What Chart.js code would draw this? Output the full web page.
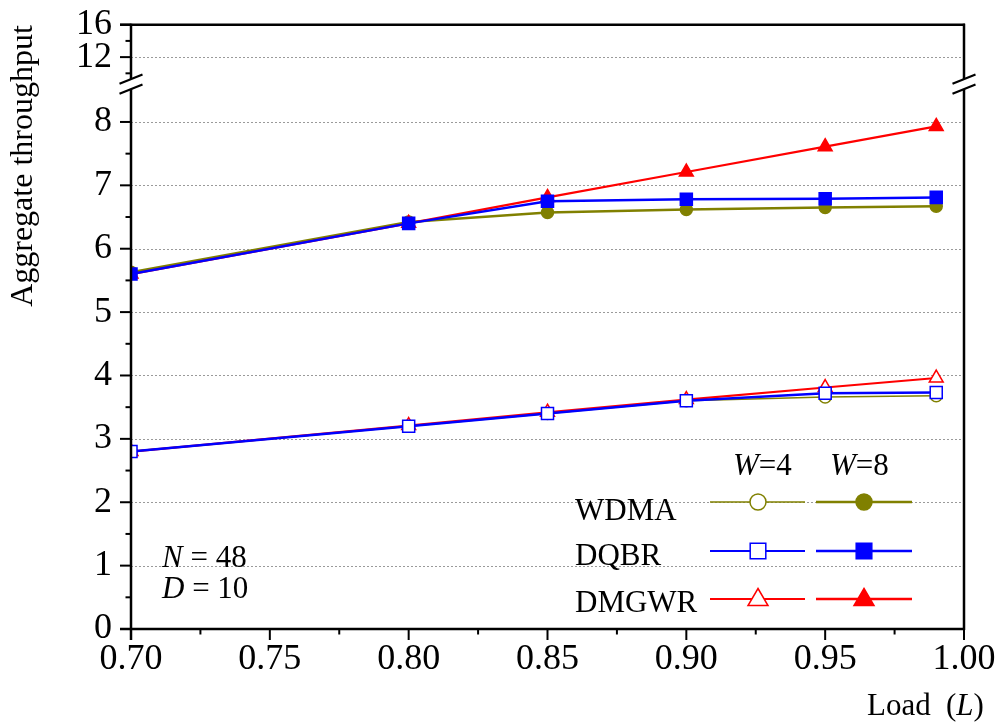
<!DOCTYPE html>
<html><head><meta charset="utf-8">
<script src="https://cdn.jsdelivr.net/npm/chart.js@4/dist/chart.umd.min.js"></script>
<style>html,body{margin:0;padding:0;background:#fff;}#wrap{width:1003px;height:724px;}</style>
</head><body><div id="wrap"><canvas id="c" width="1003" height="724"></canvas></div>
<script>
// ---- data ----
const loads = [0.70, 0.80, 0.85, 0.90, 0.95, 0.99];
const wdmaW4  = [2.80, 3.20, 3.40, 3.60, 3.66, 3.68];
const dqbrW4  = [2.80, 3.20, 3.40, 3.60, 3.72, 3.73];
const dmgwrW4 = [2.80, 3.21, 3.42, 3.62, 3.81, 3.96];
const wdmaW8  = [5.63, 6.42, 6.57, 6.62, 6.65, 6.67];
const dqbrW8  = [5.60, 6.40, 6.75, 6.78, 6.79, 6.81];
const dmgwrW8 = [5.60, 6.40, 6.81, 7.21, 7.61, 7.93];
const xTickValues = [0.70, 0.75, 0.80, 0.85, 0.90, 0.95, 1.00];
const xMinorTicks = [0.725, 0.775, 0.825, 0.875, 0.925, 0.975];
const yLowTicks = [0, 1, 2, 3, 4, 5, 6, 7, 8];
const yLowMinor = [0.5, 1.5, 2.5, 3.5, 4.5, 5.5, 6.5, 7.5];
const yUpTicks = [12, 16];
const yUpMinor = [10, 14];
const seriesNames = ['WDMA', 'DQBR', 'DMGWR'];
const windowLabels = ['4', '8'];
const yTitle = 'Aggregate throughput';
const xTitleWord = 'Load';
const xTitleVar = 'L';
const noteN = 48, noteD = 10;

const FONT = "'Liberation Serif', 'Times New Roman', serif";
const OLIVE = '#808000', BLUE = '#0000ff', RED = '#ff0000';
const pts = arr => loads.map((x, i) => ({x, y: arr[i]}));

function ds(label, arr, color, style, filled, radius, width, order) {
  return {
    label, data: pts(arr), borderColor: color, borderWidth: width,
    backgroundColor: color, pointStyle: style, pointRadius: radius, pointHoverRadius: radius,
    pointBackgroundColor: filled ? color : '#ffffff', pointBorderColor: color,
    pointBorderWidth: 1.5, tension: 0, order, yAxisID: 'y'
  };
}

function line(ctx, x1, y1, x2, y2) { ctx.beginPath(); ctx.moveTo(x1, y1); ctx.lineTo(x2, y2); ctx.stroke(); }

function marker(ctx, style, x, y, size, color, filled) {
  ctx.save();
  ctx.fillStyle = filled ? color : '#fff';
  ctx.strokeStyle = color; ctx.lineWidth = 1.5; ctx.setLineDash([]);
  ctx.beginPath();
  if (style === 'circle') ctx.arc(x, y, size, 0, Math.PI * 2);
  else if (style === 'rect') ctx.rect(x - size, y - size, size * 2, size * 2);
  else { ctx.moveTo(x, y - size * 1.05); ctx.lineTo(x + size * 1.0, y + size * 0.65); ctx.lineTo(x - size * 1.0, y + size * 0.65); ctx.closePath(); }
  ctx.fill(); ctx.stroke();
  ctx.restore();
}

function rich(ctx, parts, x, y, size) {
  let cx = x;
  for (const p of parts) {
    ctx.font = (p.it ? 'italic ' : '') + size + 'px ' + FONT;
    ctx.fillText(p.t, cx, y);
    cx += ctx.measureText(p.t).width;
  }
}

const deco = {
  id: 'deco',
  beforeDatasetsDraw(chart) {
    const {ctx, chartArea: a, scales: {y, y2}} = chart;
    ctx.save();
    ctx.strokeStyle = '#9a9a9a'; ctx.lineWidth = 1; ctx.setLineDash([2, 2]);
    for (const v of yLowTicks) if (v > 0) { const p = Math.round(y.getPixelForValue(v)) + 0.5; line(ctx, a.left, p, a.right, p); }
    for (const v of yUpTicks) if (v < 16) { const p = Math.round(y2.getPixelForValue(v)) + 0.5; line(ctx, a.left, p, a.right, p); }
    ctx.restore();
  },
  afterDatasetsDraw(chart) {
    const {ctx, chartArea: a, scales: {x, y, y2}} = chart;
    ctx.save();
    ctx.strokeStyle = '#000'; ctx.setLineDash([]);
    const bY = y.top - 3;   // break centre
    const gap = 5;
    ctx.lineWidth = 2.5;
    line(ctx, a.left, a.bottom + 11, a.left, bY + gap);
    line(ctx, a.left, bY - gap, a.left, a.top - 1);
    line(ctx, a.right, a.bottom + 1, a.right, bY + gap);
    line(ctx, a.right, bY - gap, a.right, a.top - 1);
    line(ctx, a.left - 11, a.top, a.right + 1, a.top);
    line(ctx, a.left - 11, a.bottom, a.right + 1, a.bottom);
    ctx.lineWidth = 2.2;
    for (const cx of [a.left, a.right]) {
      for (const dy of [-gap, gap]) line(ctx, cx - 11.5, bY + dy + 4.6, cx + 11.5, bY + dy - 4.6);
    }
    ctx.lineWidth = 2;
    for (const v of yLowTicks) { const p = y.getPixelForValue(v); line(ctx, a.left - 11, p, a.left, p); }
    for (const v of yLowMinor) { const p = y.getPixelForValue(v); line(ctx, a.left - 5.5, p, a.left, p); }
    for (const v of yUpTicks) { const p = y2.getPixelForValue(v); line(ctx, a.left - 11, p, a.left, p); }
    for (const v of yUpMinor) { const p = y2.getPixelForValue(v); line(ctx, a.left - 5.5, p, a.left, p); }
    for (const v of xTickValues) { const p = x.getPixelForValue(v); line(ctx, p, a.bottom, p, a.bottom + 11); }
    for (const v of xMinorTicks) { const p = x.getPixelForValue(v); line(ctx, p, a.bottom, p, a.bottom + 5.5); }
    ctx.restore();
  },
  afterDraw(chart) {
    const {ctx} = chart;
    ctx.save();
    ctx.fillStyle = '#000'; ctx.textBaseline = 'alphabetic';
    ctx.save();
    ctx.translate(32, 166); ctx.rotate(-Math.PI / 2);
    ctx.font = '32px ' + FONT; ctx.textAlign = 'center';
    ctx.fillText(yTitle, 0, 0);
    ctx.restore();
    ctx.textAlign = 'left';
    rich(ctx, [{t: xTitleWord}], 867, 715, 31);
    rich(ctx, [{t: '('}, {t: xTitleVar, it: true}, {t: ')'}], 946, 715, 31);
    rich(ctx, [{t: 'N', it: true}, {t: ' = ' + noteN}], 162, 567, 31);
    rich(ctx, [{t: 'D', it: true}, {t: ' = ' + noteD}], 162, 598, 31);
    const hdrX = [733, 830];
    windowLabels.forEach((w, i) => rich(ctx, [{t: 'W', it: true}, {t: '=' + w}], hdrX[i], 475, 31));
    const rows = [
      {name: seriesNames[0], color: OLIVE, style: 'circle', size: 8, w: [1.5, 2.5]},
      {name: seriesNames[1], color: BLUE, style: 'rect', size: 7.8, w: [2, 2.5]},
      {name: seriesNames[2], color: RED, style: 'tri', size: 10, w: [2, 2.5]}
    ];
    const lineY = [502, 551, 599], textY = [520, 565, 612];
    const segs = [[710, 805, 758], [816, 912, 864]];
    rows.forEach((r, i) => {
      rich(ctx, [{t: r.name}], 575, textY[i], 31);
      segs.forEach((s, j) => {
        ctx.strokeStyle = r.color; ctx.lineWidth = r.w[j]; ctx.setLineDash([]);
        line(ctx, s[0], lineY[i], s[1], lineY[i]);
        marker(ctx, r.style, s[2], lineY[i], r.size, r.color, j === 1);
      });
    });
    ctx.restore();
  }
};

const tickFont = {family: FONT, size: 36, lineHeight: 1};
const noPadV = s => { s.width = 131; s.paddingTop = 0; s.paddingBottom = 0; };
new Chart(document.getElementById('c'), {
  type: 'line',
  data: {
    datasets: [
      ds('WDMA W=4', wdmaW4, OLIVE, 'circle', false, 6, 1.5, 3),
      ds('DMGWR W=4', dmgwrW4, RED, 'triangle', false, 8, 2.2, 2),
      ds('DQBR W=4', dqbrW4, BLUE, 'rect', false, 8.5, 2.5, 1),
      ds('WDMA W=8', wdmaW8, OLIVE, 'circle', true, 6, 2.5, 3),
      ds('DMGWR W=8', dmgwrW8, RED, 'triangle', true, 8, 2.2, 2),
      ds('DQBR W=8', dqbrW8, BLUE, 'rect', true, 8.5, 2.5, 1)
    ]
  },
  options: {
    responsive: false, animation: false, devicePixelRatio: 1,
    layout: {padding: {left: 0, right: 39, top: 24.7, bottom: 0}},
    plugins: {legend: {display: false}, tooltip: {enabled: false}},
    scales: {
      x: {
        type: 'linear', min: 0.70, max: 1.00,
        grid: {display: false, drawTicks: false}, border: {display: false},
        afterBuildTicks: s => { s.ticks = xTickValues.map(v => ({value: v})); },
        ticks: {callback: v => Number(v).toFixed(2), font: tickFont, color: '#000', padding: 13, maxRotation: 0, autoSkip: false},
        afterFit: s => { s.height = 95; s.paddingLeft = 0; s.paddingRight = 0; }
      },
      y: {
        type: 'linear', position: 'left', stack: 'ys', stackWeight: 541.9, min: 0, max: 8.55,
        grid: {display: false, drawTicks: false}, border: {display: false},
        afterBuildTicks: s => { s.ticks = yLowTicks.map(v => ({value: v})); },
        ticks: {callback: v => String(v), font: tickFont, color: '#000', padding: 19, autoSkip: false},
        afterFit: noPadV
      },
      y2: {
        type: 'linear', position: 'left', stack: 'ys', stackWeight: 62.4, min: 8.3, max: 16,
        grid: {display: false, drawTicks: false}, border: {display: false},
        afterBuildTicks: s => { s.ticks = yUpTicks.map(v => ({value: v})); },
        ticks: {callback: v => String(v), font: tickFont, color: '#000', padding: 19, autoSkip: false},
        afterFit: noPadV
      }
    }
  },
  plugins: [deco]
});
</script></body></html>
